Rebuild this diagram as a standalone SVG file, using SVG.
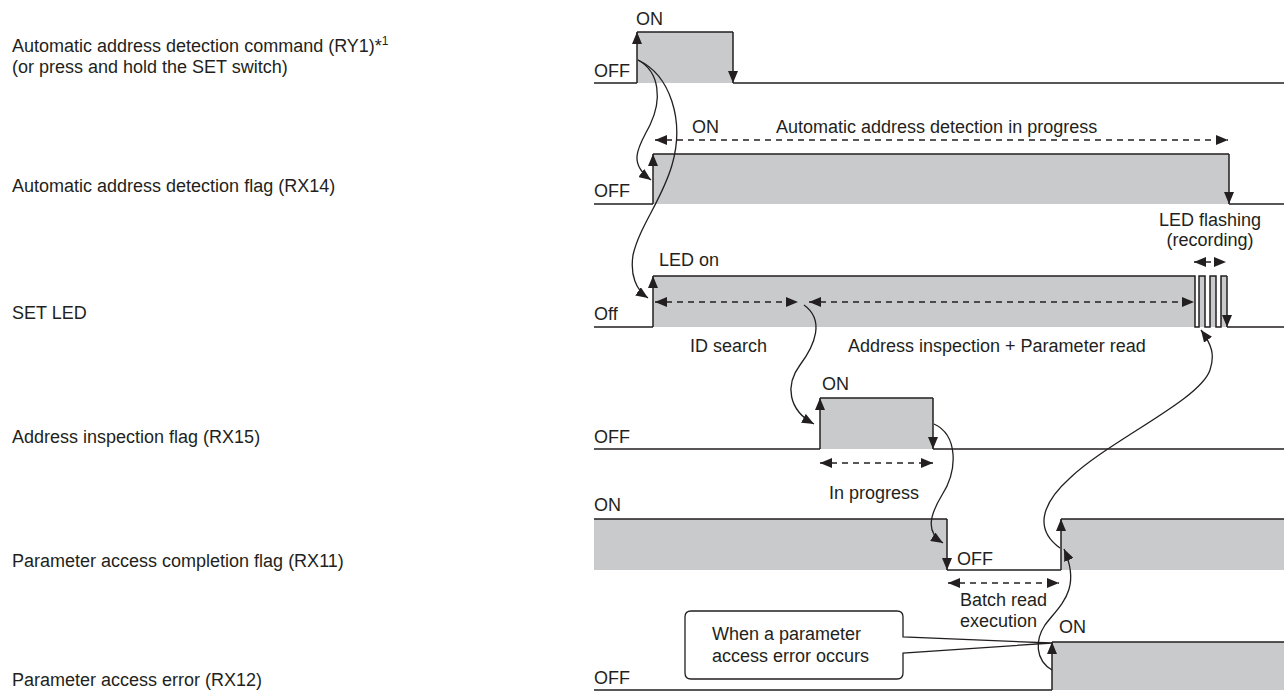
<svg xmlns="http://www.w3.org/2000/svg" width="1284" height="693" viewBox="0 0 1284 693">
  <defs>
    <!-- filled arrowhead used on signal edges and dimension arrows -->
    <marker id="ah" viewBox="0 0 12 10" refX="12" refY="5" markerWidth="12" markerHeight="10" markerUnits="userSpaceOnUse" orient="auto-start-reverse">
      <path d="M0,0 L12,5 L0,10 z" fill="#231f20"/>
    </marker>
    <!-- arrowhead for the curved cause/effect connectors -->
    <marker id="ahc" viewBox="0 0 12 10" refX="12" refY="5" markerWidth="12" markerHeight="10" markerUnits="userSpaceOnUse" orient="auto">
      <path d="M0,0 L12,5 L0,10 z" fill="#231f20"/>
    </marker>
  </defs>
  <style>
    text { font-family: "Liberation Sans", Arial, "Noto Sans", sans-serif; font-size: 18px; fill: #231f20; }
    .hi { fill: #c9cacc; stroke: none; }
    .w { fill: none; stroke: #231f20; stroke-width: 1.5; }
    .edge { stroke: #231f20; stroke-width: 1.5; marker-end: url(#ah); }
    .dash { stroke: #231f20; stroke-width: 1.3; stroke-dasharray: 6 5; marker-start: url(#ah); marker-end: url(#ah); }
    .cv { fill: none; stroke: #231f20; stroke-width: 1.3; marker-end: url(#ahc); }
    .mid { text-anchor: middle; }
  </style>

  <rect width="1284" height="693" fill="#ffffff"/>

  <!-- signal names -->
  <g id="labels">
    <text x="12" y="52">Automatic address detection command (RY1)<tspan>*</tspan><tspan font-size="12" dy="-7">1</tspan></text>
    <text x="12" y="73">(or press and hold the SET switch)</text>
    <text x="12" y="192">Automatic address detection flag (RX14)</text>
    <text x="12" y="319">SET LED</text>
    <text x="12" y="443">Address inspection flag (RX15)</text>
    <text x="12" y="567">Parameter access completion flag (RX11)</text>
    <text x="12" y="686">Parameter access error (RX12)</text>
  </g>

  <!-- RY1: automatic address detection command -->
  <g id="sig-ry1">
    <rect class="hi" x="637" y="32" width="96" height="51"/>
    <path class="w" d="M594,83 H637 M637,32 H733 M733,83 H1284"/>
    <line class="edge" x1="637" y1="83" x2="637" y2="32"/>
    <line class="edge" x1="733" y1="32" x2="733" y2="83"/>
    <text x="636" y="25">ON</text>
    <text x="594" y="77">OFF</text>
  </g>

  <!-- RX14: automatic address detection flag -->
  <g id="sig-rx14">
    <rect class="hi" x="653" y="154" width="576" height="50"/>
    <path class="w" d="M594,204 H653 M653,154 H1229 M1229,204 H1284"/>
    <line class="edge" x1="653" y1="204" x2="653" y2="154"/>
    <line class="edge" x1="1229" y1="154" x2="1229" y2="204"/>
    <line class="dash" x1="655" y1="140" x2="1228" y2="140"/>
    <text x="692" y="133">ON</text>
    <text x="776" y="133">Automatic address detection in progress</text>
    <text x="594" y="197">OFF</text>
  </g>

  <!-- SET LED -->
  <g id="sig-setled">
    <rect class="hi" x="653" y="276" width="542" height="51"/>
    <rect class="hi" x="1199" y="276" width="6" height="51"/>
    <rect class="hi" x="1210" y="276" width="6" height="51"/>
    <rect class="hi" x="1221" y="276" width="6" height="51"/>
    <path class="w" d="M594,327 H653 M653,276 H1195 V327 H1199 V276 H1205 V327 H1210 V276 H1216 V327 H1221 V276 H1227 M1227,327 H1284"/>
    <line class="edge" x1="653" y1="327" x2="653" y2="276"/>
    <line class="edge" x1="1227" y1="276" x2="1227" y2="327"/>
    <line class="dash" x1="655" y1="302" x2="798" y2="302"/>
    <line class="dash" x1="809" y1="302" x2="1194" y2="302"/>
    <line class="dash" x1="1194" y1="262" x2="1226" y2="262"/>
    <text x="659" y="266">LED on</text>
    <text x="1210" y="226" class="mid">LED flashing</text>
    <text x="1210" y="246" class="mid">(recording)</text>
    <text x="594" y="320">Off</text>
    <text x="690" y="352">ID search</text>
    <text x="848" y="352">Address inspection + Parameter read</text>
  </g>

  <!-- RX15: address inspection flag -->
  <g id="sig-rx15">
    <rect class="hi" x="820" y="398" width="113" height="51"/>
    <path class="w" d="M594,449 H820 M820,398 H933 M933,449 H1284"/>
    <line class="edge" x1="820" y1="449" x2="820" y2="398"/>
    <line class="edge" x1="933" y1="398" x2="933" y2="449"/>
    <line class="dash" x1="820" y1="463" x2="933" y2="463"/>
    <text x="822" y="390">ON</text>
    <text x="594" y="443">OFF</text>
    <text x="829" y="499">In progress</text>
  </g>

  <!-- RX11: parameter access completion flag -->
  <g id="sig-rx11">
    <rect class="hi" x="594" y="519" width="353" height="51"/>
    <rect class="hi" x="1061" y="519" width="223" height="51"/>
    <path class="w" d="M594,519 H947 M947,570 H1061 M1061,519 H1284"/>
    <line class="edge" x1="947" y1="519" x2="947" y2="570"/>
    <line class="edge" x1="1061" y1="570" x2="1061" y2="519"/>
    <line class="dash" x1="948" y1="583" x2="1059" y2="583"/>
    <text x="594" y="511">ON</text>
    <text x="957" y="565">OFF</text>
    <text x="960" y="606">Batch read</text>
    <text x="960" y="627">execution</text>
  </g>

  <!-- RX12: parameter access error -->
  <g id="sig-rx12">
    <rect class="hi" x="1052" y="642" width="232" height="48"/>
    <path class="w" d="M594,690 H1052 M1052,642 H1284"/>
    <line class="edge" x1="1052" y1="690" x2="1052" y2="642"/>
    <text x="1059" y="633">ON</text>
    <text x="594" y="684">OFF</text>
  </g>

  <!-- callout -->
  <g id="callout">
    <path d="M691,611 H897 Q903,611 903,617 V637 L1052,643 L903,653 V673 Q903,679 897,679 H691 Q685,679 685,673 V617 Q685,611 691,611 Z" fill="#ffffff" stroke="#231f20" stroke-width="1.3"/>
    <text x="712" y="640">When a parameter</text>
    <text x="712" y="662">access error occurs</text>
  </g>

  <!-- cause/effect connectors -->
  <g id="connectors">
    <path class="cv" d="M638,60 C660,72 662,100 650,125 C640,145 626,162 651,180"/>
    <path class="cv" d="M638,60 C670,75 685,120 672,165 C662,200 640,225 633,255 C630,275 636,290 648,298"/>
    <path class="cv" d="M804,305 C825,320 815,345 800,365 C785,385 788,410 814,424"/>
    <path class="cv" d="M934,424 C958,435 958,470 942,495 C930,515 925,532 943,543"/>
    <path class="cv" d="M1052,670 C1035,660 1035,640 1045,625 C1060,605 1082,590 1064,549"/>
    <path class="cv" d="M1060,548 C1035,530 1040,505 1070,478 C1110,440 1200,400 1210,370 C1215,355 1212,345 1201,330"/>
  </g>
</svg>
